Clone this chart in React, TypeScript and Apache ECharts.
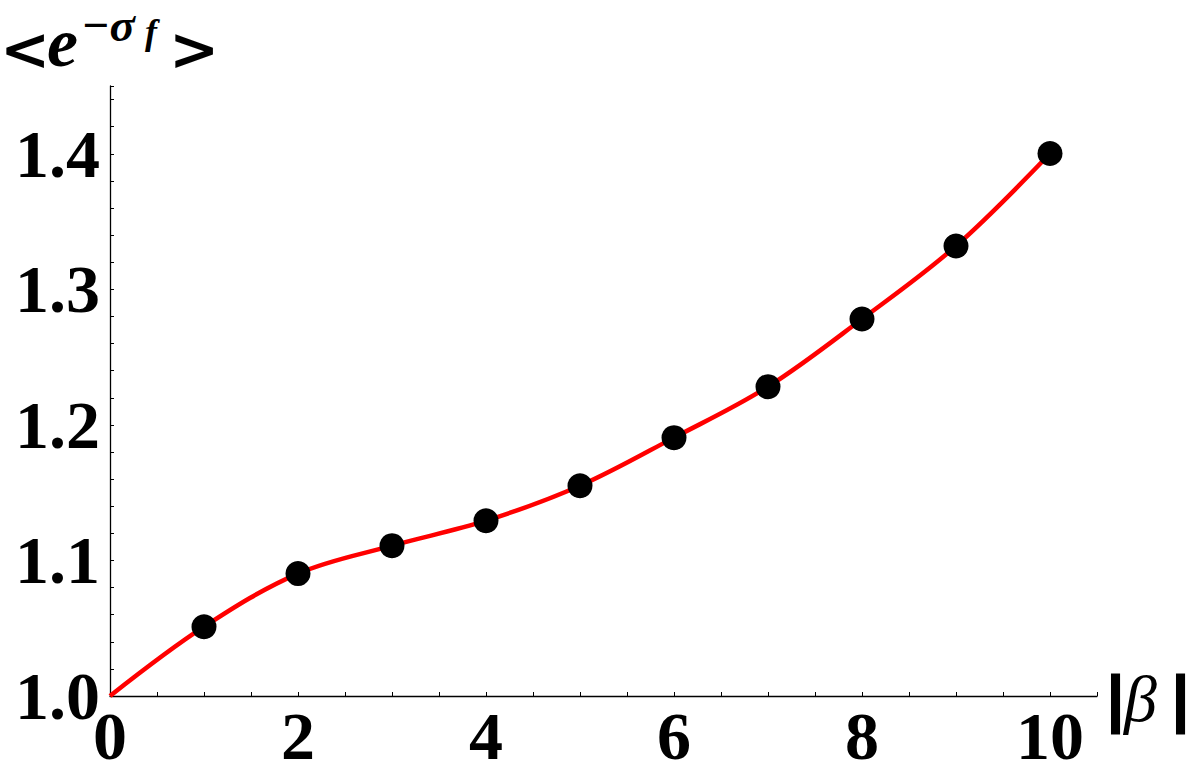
import React, { useEffect, useRef } from "react";
import * as echarts from "echarts";

const betaValues = [1, 2, 3, 4, 5, 6, 7, 8, 9, 10];
const expValues = [1.0511, 1.0903, 1.1109, 1.1293, 1.1551, 1.1906, 1.2282, 1.2781, 1.332, 1.4002];

const curveBeta = [0, 1, 2, 3, 4, 5, 6, 7, 8, 9, 10];
const curveValues = [1.0, 1.0511, 1.0903, 1.1109, 1.1293, 1.1551, 1.1906, 1.2282, 1.2781, 1.332, 1.4002];

const xTickLabels = ["0", "2", "4", "6", "8", "10"];
const yTickLabels = ["1.0", "1.1", "1.2", "1.3", "1.4"];

const SERIF = "'Liberation Serif', 'Times New Roman', serif";
const DSERIF = "'DejaVu Serif', serif";

export default function App() {
  const ref = useRef<HTMLDivElement>(null);
  useEffect(() => {
    if (!ref.current) return;
    const chart = echarts.init(ref.current, null, { renderer: "svg" });
    const labelStyle = {
      fontFamily: SERIF,
      fontWeight: "bold" as const,
      fontSize: 68,
      color: "#000",
    };
    chart.setOption({
      animation: false,
      backgroundColor: "#fff",
      grid: { left: 110, right: 95, top: 86, bottom: 84, containLabel: false },
      xAxis: {
        type: "value",
        min: 0,
        max: 10.5,
        interval: 0.5,
        axisLine: { show: true, onZero: false, lineStyle: { color: "#000", width: 1.3 } },
        axisTick: { show: true, inside: true, length: 4, lineStyle: { color: "#000", width: 1 } },
        splitLine: { show: false },
        axisLabel: {
          ...labelStyle,
          margin: 6,
          formatter: (v: number) => {
            const s = String(Math.round(v * 100) / 100);
            return xTickLabels.includes(s) ? s : "";
          },
        },
      },
      yAxis: {
        type: "value",
        min: 1.0,
        max: 1.45,
        interval: 0.02,
        axisLine: { show: true, onZero: false, lineStyle: { color: "#000", width: 1.3 } },
        axisTick: { show: true, inside: true, length: 4, lineStyle: { color: "#000", width: 1 } },
        splitLine: { show: false },
        axisLabel: {
          ...labelStyle,
          margin: 10,
          formatter: (v: number) => {
            const s = (Math.round(v * 100) / 100).toFixed(2);
            const t = s.endsWith("0") ? s.slice(0, -1) : "";
            return yTickLabels.includes(t) ? t : "";
          },
        },
      },
      series: [
        {
          type: "line",
          data: curveBeta.map((b, i) => [b, curveValues[i]]),
          smooth: 0.35,
          showSymbol: false,
          symbol: "none",
          lineStyle: { color: "#ff0000", width: 4.5 },
          z: 2,
        },
        {
          type: "scatter",
          data: betaValues.map((b, i) => [b, expValues[i]]),
          symbol: "circle",
          symbolSize: 25,
          itemStyle: { color: "#000", opacity: 1 },
          z: 3,
        },
      ],
      graphic: [
        { type: "text", x: 0, y: 49, style: { text: "<", font: `bold 60px ${DSERIF}`, fill: "#000", verticalAlign: "middle", align: "left" } },
        { type: "text", x: 47, y: 42, style: { text: "e", font: `italic bold 70px ${SERIF}`, fill: "#000", verticalAlign: "middle", align: "left" } },
        { type: "text", x: 81, y: 24.5, style: { text: "\u2212\u03c3", font: `italic bold 47px ${SERIF}`, fill: "#000", verticalAlign: "middle", align: "left" } },
        { type: "text", x: 145, y: 32, style: { text: "f", font: `italic bold 36px ${SERIF}`, fill: "#000", verticalAlign: "middle", align: "left" } },
        { type: "text", x: 169, y: 49, style: { text: ">", font: `bold 60px ${DSERIF}`, fill: "#000", verticalAlign: "middle", align: "left" } },
        { type: "text", x: 1105, y: 699, style: { text: "|", font: `bold 58px ${DSERIF}`, fill: "#000", stroke: "#000", lineWidth: 3, verticalAlign: "middle", align: "left" } },
        { type: "text", x: 1124, y: 698, style: { text: "\u03b2", font: `italic 66px ${SERIF}`, fill: "#000", verticalAlign: "middle", align: "left" } },
        { type: "text", x: 1170, y: 699, style: { text: "|", font: `bold 58px ${DSERIF}`, fill: "#000", stroke: "#000", lineWidth: 3, verticalAlign: "middle", align: "left" } },
      ],
    });
    return () => chart.dispose();
  }, []);
  return (
    <div
      ref={ref}
      style={{ position: "fixed", left: 0, top: 0, width: 1192, height: 780, background: "#fff" }}
    />
  );
}
